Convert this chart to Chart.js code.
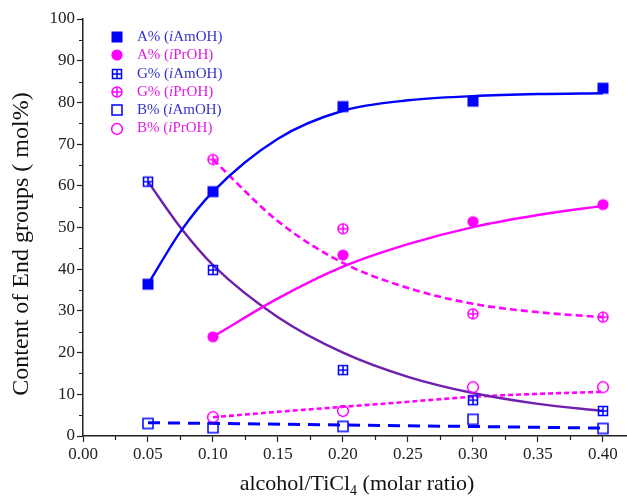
<!DOCTYPE html>
<html>
<head>
<meta charset="utf-8">
<script src="https://cdn.jsdelivr.net/npm/chart.js@4/dist/chart.umd.min.js"></script>
<style>
  html, body { margin: 0; padding: 0; background: #fff; }
  #chart { display: block; }
</style>
</head>
<body>
<canvas id="chart" width="627" height="497"></canvas>
<script>
// measured end-group contents (mol%)
const ratioAm = [0.05, 0.10, 0.20, 0.30, 0.40];
const ratioPr = [0.10, 0.20, 0.30, 0.40];
const aAm = [36.4, 58.6, 79.0, 80.3, 83.4];
const aPr = [23.8, 43.4, 51.4, 55.5];
const gAm = [61.0, 39.8, 15.8, 8.6, 6.0];
const gPr = [66.3, 49.7, 29.3, 28.5];
const bAm = [3.0, 2.0, 2.3, 4.0, 1.8];
const bPr = [4.5, 6.0, 11.7, 11.7];

// fitted trend curves
const fitAmX = [0.05, 0.075, 0.10, 0.15, 0.20, 0.25, 0.30, 0.35, 0.40];
const aAmFit = [36.4, 49.0, 58.6, 71.3, 78.0, 80.5, 81.5, 82.0, 82.2];
const gAmFit = [61.0, 50.0, 41.0, 28.5, 20.0, 14.2, 10.3, 7.7, 6.0];
const fitPrX = [0.10, 0.15, 0.20, 0.25, 0.30, 0.35, 0.40];
const aPrFit = [23.8, 33.0, 40.6, 46.0, 50.1, 53.0, 55.2];
const gPrFit = [66.3, 51.5, 41.5, 35.5, 31.7, 29.7, 28.5];
const bPrFit = [4.5, 5.8, 7.0, 8.2, 9.4, 10.1, 10.6];
const bAmFitX = [0.05, 0.40];
const bAmFit = [3.2, 1.9];

const xTicks = [0, 0.05, 0.10, 0.15, 0.20, 0.25, 0.30, 0.35, 0.40];
const yTicks = [0, 10, 20, 30, 40, 50, 60, 70, 80, 90, 100];

const BLUE = '#0000ff';
const PINK = '#ff00ff';
const PURPLE = '#6f1fae';
const SERIF = '"Liberation Serif", "Times New Roman", serif';

function marker(kind, color) {
  const c = document.createElement('canvas');
  c.width = 14; c.height = 14;
  const g = c.getContext('2d');
  g.strokeStyle = color;
  g.fillStyle = color;
  g.lineWidth = 1.5;
  if (kind === 'fsquare') {
    g.fillRect(1.5, 1.5, 11, 11);
  } else if (kind === 'fcircle') {
    g.beginPath(); g.arc(7, 7, 5.6, 0, Math.PI * 2); g.fill();
  } else if (kind === 'gsquare') {
    g.strokeRect(2.5, 2.5, 9, 9);
    g.beginPath();
    g.moveTo(7, 2.5); g.lineTo(7, 11.5);
    g.moveTo(2.5, 7); g.lineTo(11.5, 7);
    g.stroke();
  } else if (kind === 'pcircle') {
    g.beginPath(); g.arc(7, 7, 5, 0, Math.PI * 2); g.stroke();
    g.beginPath();
    g.moveTo(7, 2); g.lineTo(7, 12);
    g.moveTo(2, 7); g.lineTo(12, 7);
    g.stroke();
  } else if (kind === 'osquare') {
    g.strokeRect(2, 2, 10, 10);
  } else if (kind === 'ocircle') {
    g.beginPath(); g.arc(7, 7, 5.4, 0, Math.PI * 2); g.stroke();
  }
  return c;
}

const mk = {
  aAm: marker('fsquare', BLUE),
  aPr: marker('fcircle', PINK),
  gAm: marker('gsquare', BLUE),
  gPr: marker('pcircle', PINK),
  bAm: marker('osquare', BLUE),
  bPr: marker('ocircle', PINK)
};

const pts = (xs, ys) => xs.map((x, i) => ({ x: x, y: ys[i] }));

function fit(xs, ys, color, dash, width) {
  return {
    data: pts(xs, ys),
    showLine: true,
    borderColor: color,
    borderWidth: width || 2.4,
    borderDash: dash,
    cubicInterpolationMode: 'monotone',
    pointRadius: 0,
    pointHoverRadius: 0
  };
}

function points(xs, ys, style) {
  return {
    data: pts(xs, ys),
    showLine: false,
    pointStyle: style,
    pointRadius: 6,
    pointHoverRadius: 6
  };
}

const legendRows = [
  { m: mk.aAm, color: '#3333cc', parts: ['A% (', 'i', 'AmOH)'] },
  { m: mk.aPr, color: '#e01ee0', parts: ['A% (', 'i', 'PrOH)'] },
  { m: mk.gAm, color: '#3333cc', parts: ['G% (', 'i', 'AmOH)'] },
  { m: mk.gPr, color: '#e01ee0', parts: ['G% (', 'i', 'PrOH)'] },
  { m: mk.bAm, color: '#3333cc', parts: ['B% (', 'i', 'AmOH)'] },
  { m: mk.bPr, color: '#e01ee0', parts: ['B% (', 'i', 'PrOH)'] }
];

// minor ticks, legend and both axis titles
const extras = {
  id: 'extras',
  afterDraw(chart) {
    const ctx = chart.ctx;
    const xs = chart.scales.x, ys = chart.scales.y;
    const area = chart.chartArea;
    ctx.save();
    ctx.strokeStyle = '#222';
    ctx.lineWidth = 1.2;
    ctx.beginPath();
    for (let v = 0.025; v < 0.42; v += 0.05) {
      const px = Math.round(xs.getPixelForValue(v)) + 0.5;
      ctx.moveTo(px, area.bottom); ctx.lineTo(px, area.bottom + 4);
    }
    for (let v = 5; v < 100; v += 10) {
      const py = Math.round(ys.getPixelForValue(v)) + 0.5;
      ctx.moveTo(area.left, py); ctx.lineTo(area.left - 4, py);
    }
    ctx.stroke();

    // legend
    legendRows.forEach((r, i) => {
      const y = 37 + i * 18.3;
      ctx.drawImage(r.m, 110, Math.round(y) - 7);
      let x = 137;
      r.parts.forEach((p, j) => {
        ctx.font = (j === 1 ? 'italic ' : '') + '15px ' + SERIF;
        ctx.fillStyle = r.color;
        ctx.textBaseline = 'middle';
        ctx.fillText(p, x, y);
        x += ctx.measureText(p).width;
      });
    });

    // y axis title
    ctx.fillStyle = '#111';
    ctx.save();
    ctx.translate(22, 244);
    ctx.rotate(-Math.PI / 2);
    ctx.font = '24px ' + SERIF;
    ctx.textAlign = 'center';
    ctx.textBaseline = 'middle';
    ctx.fillText('Content of End groups ( mol%)', 0, 0);
    ctx.restore();

    // x axis title
    const cx = (area.left + area.right) / 2 + 2;
    const base = 490;
    ctx.textBaseline = 'alphabetic';
    const a = 'alcohol/TiCl', b = ' (molar ratio)';
    ctx.font = '22px ' + SERIF;
    const wa = ctx.measureText(a).width, wb = ctx.measureText(b).width;
    ctx.font = '14px ' + SERIF;
    const ws = ctx.measureText('4').width;
    let x0 = cx - (wa + ws + wb) / 2;
    ctx.font = '22px ' + SERIF;
    ctx.fillText(a, x0, base);
    ctx.font = '14px ' + SERIF;
    ctx.fillText('4', x0 + wa, base + 5);
    ctx.font = '22px ' + SERIF;
    ctx.fillText(b, x0 + wa + ws, base);
    ctx.restore();
  }
};

new Chart(document.getElementById('chart').getContext('2d'), {
  type: 'scatter',
  data: {
    datasets: [
      points(ratioAm, aAm, mk.aAm),
      points(ratioPr, aPr, mk.aPr),
      points(ratioAm, gAm, mk.gAm),
      points(ratioPr, gPr, mk.gPr),
      points(ratioAm, bAm, mk.bAm),
      points(ratioPr, bPr, mk.bPr),
      fit(fitAmX, aAmFit, BLUE, []),
      fit(fitPrX, aPrFit, PINK, []),
      fit(fitAmX, gAmFit, PURPLE, []),
      fit(fitPrX, gPrFit, PINK, [7, 4], 2.6),
      fit(bAmFitX, bAmFit, BLUE, [12, 8], 3),
      fit(fitPrX, bPrFit, PINK, [5, 3], 2.6)
    ]
  },
  options: {
    responsive: false,
    animation: false,
    clip: false,
    layout: { autoPadding: false, padding: { top: 19, right: 0, left: 0, bottom: 0 } },
    plugins: { legend: { display: false }, tooltip: { enabled: false } },
    scales: {
      x: {
        type: 'linear',
        min: 0,
        max: 0.4185,
        afterBuildTicks: s => { s.ticks = xTicks.map(v => ({ value: v })); },
        afterFit: s => { s.height = 61; s.paddingLeft = 0; s.paddingRight = 0; },
        grid: { drawOnChartArea: false, drawTicks: true, tickLength: 6, color: '#222', tickWidth: 1.2 },
        border: { display: true, color: '#222', width: 1.5 },
        ticks: {
          padding: 2,
          color: '#222',
          font: { family: SERIF, size: 17 },
          callback: v => Number(v).toFixed(2)
        }
      },
      y: {
        min: 0,
        max: 100,
        afterBuildTicks: s => { s.ticks = yTicks.map(v => ({ value: v })); },
        afterFit: s => { s.width = 83; },
        grid: { drawOnChartArea: false, drawTicks: true, tickLength: 6, color: '#222', tickWidth: 1.2 },
        border: { display: true, color: '#222', width: 1.5 },
        ticks: {
          padding: 2,
          color: '#222',
          font: { family: SERIF, size: 17 }
        }
      }
    }
  },
  plugins: [extras]
});
</script>
</body>
</html>
